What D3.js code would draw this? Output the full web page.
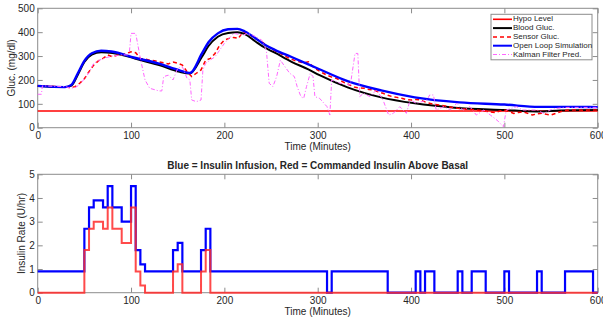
<!DOCTYPE html>
<html>
<head>
<meta charset="utf-8">
<script src="https://cdn.jsdelivr.net/npm/d3@7"></script>
<style>
  body { margin: 0; background: white; }
  text { font-family: "Liberation Sans", Arial, sans-serif; fill: #262626; }
</style>
</head>
<body>
<div id="visualization"></div>
<script>
let w = 603;
let h = 320;

// ---- top chart data (minutes, mg/dl) ----
let hypoLevel = 70;

let bloodTimes = [0, 30, 36, 43, 50, 58, 68, 80, 104, 130, 152, 163, 176, 183, 193, 204, 214, 222, 233, 243, 254, 272, 290, 302, 332, 368, 404, 447, 500, 535, 560, 600];
let bloodVals  = [175, 170, 176, 222, 275, 306, 316, 313, 290, 262, 234, 227, 297, 342, 381, 397, 400, 392, 362, 336, 314, 276, 244, 220, 169, 127, 102, 84, 74, 68, 72, 74];

let openTimes = [0, 29, 36, 43, 50, 58, 68, 79, 104, 130, 152, 163, 176, 183, 193, 204, 214, 222, 233, 243, 254, 272, 290, 300, 332, 368, 404, 452, 500, 537, 570, 600];
let openVals  = [175, 170, 179, 228, 280, 312, 322, 319, 293, 268, 240, 229, 311, 358, 395, 412, 414, 403, 376, 348, 326, 296, 265, 248, 195, 156, 127, 106, 97, 87, 87, 86];

let sensorTimes = d3.range(0, 601, 5);
let sensorVals = [176, 175, 174, 174, 172, 172, 170, 168, 172, 186, 205, 235, 262, 280, 290, 305, 297, 303, 304, 311,
  318, 314, 290, 288, 283, 280, 276, 272, 267, 275, 270, 262, 235, 214, 228, 242, 283, 290, 311, 346,
  367, 374, 378, 374, 402, 395, 381, 370, 360, 345, 332, 320, 311, 300, 290, 282, 276, 272, 276, 255,
  241, 230, 220, 212, 207, 196, 186, 178, 169, 166, 165, 160, 158, 150, 144, 136, 130, 127, 123, 118,
  116, 118, 116, 108, 102, 98, 95, 92, 88, 84, 81, 79, 77, 76, 74, 72, 70, 66, 63, 70,
  74, 68, 60, 64, 67, 60, 53, 58, 60, 56, 53, 60, 67, 72, 74, 74, 74, 73, 74, 74, 74];

let kalmanTimes = [0, 4, 5, 30, 35, 40, 45, 55, 60, 70, 80, 90, 98, 100, 105, 107, 110, 115, 120, 130, 133, 135, 140, 145, 150, 155, 160, 163, 165, 170, 175, 177, 180, 190, 200, 210, 220, 225, 230, 240, 245, 248, 252, 256, 260, 265, 270, 275, 278, 282, 285, 288, 292, 295, 297, 302, 310, 313, 315, 324, 335, 340, 343, 345, 349, 356, 363, 370, 376, 381, 388, 395, 399, 406, 417, 420, 424, 427, 435, 442, 449, 456, 463, 470, 478, 485, 492, 499, 502, 513, 520, 535, 542, 549, 556, 567, 600];
let kalmanVals  = [140, 140, 175, 172, 165, 168, 180, 230, 270, 290, 300, 305, 305, 395, 395, 353, 290, 200, 165, 154, 154, 214, 220, 200, 249, 255, 207, 200, 116, 109, 116, 242, 270, 297, 353, 395, 388, 395, 388, 367, 325, 186, 172, 214, 283, 255, 228, 214, 172, 130, 123, 172, 228, 214, 130, 123, 88, 53, 200, 186, 179, 311, 311, 130, 144, 130, 158, 116, 53, 60, 88, 60, 116, 102, 116, 137, 137, 74, 88, 74, 102, 74, 88, 53, 74, 53, 32, 4, 74, 88, 74, 74, 60, 74, 81, 85, 85];

// ---- bottom chart data (minutes, U/hr), step after ----
let infusionTimes = [0, 50, 55, 60, 70, 75, 80, 90, 100, 105, 110, 115, 145, 150, 155, 175, 180, 185, 310, 315, 375, 405, 410, 415, 425, 450, 455, 465, 480, 500, 505, 535, 540, 565, 595, 600];
let infusionVals  = [0.9, 2.7, 3.6, 3.9, 3.6, 4.5, 3.6, 3.0, 4.5, 1.8, 1.2, 0.9, 1.8, 2.1, 0.9, 1.8, 2.7, 0.9, 0, 0.9, 0, 0.9, 0, 0.9, 0, 0.9, 0, 0.9, 0, 0.9, 0, 0.9, 0, 0.9, 0, 0];

let commandTimes = [0, 50, 55, 60, 70, 75, 80, 90, 100, 105, 110, 115, 145, 150, 155, 175, 180, 185, 600];
let commandVals  = [0, 1.8, 2.7, 3.0, 2.7, 3.6, 2.7, 2.1, 3.6, 0.9, 0.3, 0, 0.9, 1.2, 0, 0.9, 1.8, 0, 0];

let legendLabels = ["Hypo Level", "Blood Gluc.", "Sensor Gluc.", "Open Loop Simulation", "Kalman Filter Pred."];

let zip = (ts, vs) => ts.map((t, i) => ({t: t, v: vs[i]}));

let viz = d3.select("#visualization")
  .append("svg")
  .attr("width", w)
  .attr("height", h)
  .style("background-color", "white");

// shared x scale
let left = 37.7, right = 597.7;
let xScale = d3.scaleLinear().domain([0, 600]).range([left, right]);

// scales for each panel
let yTop = d3.scaleLinear().domain([0, 500]).range([127.7, 8.3]);
let yBot = d3.scaleLinear().domain([0, 5]).range([292.7, 174.3]);

function drawAxes(y, yTicks, xLabelY, yLabel, yLabelX) {
  let y0 = y.range()[0], y1 = y.range()[1];
  let g = viz.append("g");

  g.append("g").attr("transform", "translate(0," + y0 + ")")
    .call(d3.axisBottom(xScale).tickValues(d3.range(0, 601, 100)).tickSize(-5).tickPadding(4).tickSizeOuter(0));
  g.append("g").attr("transform", "translate(0," + y1 + ")")
    .call(d3.axisTop(xScale).tickValues(d3.range(0, 601, 100)).tickSize(-5).tickFormat("").tickSizeOuter(0));
  g.append("g").attr("transform", "translate(" + left + ",0)")
    .call(d3.axisLeft(y).tickValues(yTicks).tickFormat(d3.format("d")).tickSize(-5).tickPadding(3).tickSizeOuter(0));
  g.append("g").attr("transform", "translate(" + right + ",0)")
    .call(d3.axisRight(y).tickValues(yTicks).tickSize(-5).tickFormat("").tickSizeOuter(0));

  g.selectAll(".domain").remove();
  g.selectAll(".tick line").attr("stroke", "#8c8c8c");
  g.selectAll(".tick text").style("font-size", "10px").attr("fill", "#262626");

  g.append("rect")
    .attr("x", left).attr("y", y1)
    .attr("width", right - left).attr("height", y0 - y1)
    .attr("fill", "none").attr("stroke", "#8c8c8c").attr("stroke-width", 1);

  viz.append("text")
    .attr("x", (left + right) / 2).attr("y", xLabelY)
    .attr("text-anchor", "middle").style("font-size", "10px")
    .text("Time (Minutes)");

  viz.append("text")
    .attr("transform", "translate(" + yLabelX + "," + ((y0 + y1) / 2) + ") rotate(-90)")
    .attr("text-anchor", "middle").attr("dominant-baseline", "middle").style("font-size", "10px")
    .text(yLabel);
}

drawAxes(yTop, d3.range(0, 501, 100), 150, "Gluc. (mg/dl)", 12);
drawAxes(yBot, d3.range(0, 6, 1), 314.5, "Insulin Rate (U/hr)", 22);

// ---- top panel lines ----
let topLine = d3.line().x(d => xScale(d.t)).y(d => yTop(d.v));
let smoothLine = d3.line().x(d => xScale(d.t)).y(d => yTop(d.v)).curve(d3.curveMonotoneX);

let series = [
  {label: legendLabels[0], data: zip([0, 600], [hypoLevel, hypoLevel]), color: "#ff0000", width: 1.6, dash: null, gen: topLine},
  {label: legendLabels[1], data: zip(bloodTimes, bloodVals), color: "#000000", width: 2, dash: null, gen: smoothLine},
  {label: legendLabels[2], data: zip(sensorTimes, sensorVals), color: "#ff0000", width: 1.5, dash: "4,3", gen: topLine},
  {label: legendLabels[3], data: zip(openTimes, openVals), color: "#0000ff", width: 2.4, dash: null, gen: smoothLine},
  {label: legendLabels[4], data: zip(kalmanTimes, kalmanVals), color: "#ff66ff", width: 1, dash: "4,2,1,2", gen: topLine}
];

series.forEach(s => {
  viz.append("path")
    .datum(s.data)
    .attr("fill", "none")
    .attr("stroke", s.color)
    .attr("stroke-width", s.width)
    .attr("stroke-dasharray", s.dash)
    .attr("d", s.gen);
});

// legend
let legend = viz.append("g").attr("transform", "translate(491,14.3)");
legend.append("rect")
  .attr("width", 101).attr("height", 45.5)
  .attr("fill", "white").attr("stroke", "#8c8c8c");
series.forEach((s, i) => {
  let yy = 5 + i * 8.8;
  legend.append("line")
    .attr("x1", 2).attr("x2", 21).attr("y1", yy).attr("y2", yy)
    .attr("stroke", s.color).attr("stroke-width", Math.min(s.width, 2))
    .attr("stroke-dasharray", s.dash);
  legend.append("text")
    .attr("x", 22).attr("y", yy)
    .attr("dominant-baseline", "middle")
    .style("font-size", "8px")
    .text(s.label);
});

// ---- bottom panel ----
viz.append("text")
  .attr("x", (left + right) / 2).attr("y", 169)
  .attr("text-anchor", "middle")
  .style("font-size", "10px").style("font-weight", "bold")
  .attr("fill", "#000")
  .text("Blue = Insulin Infusion, Red = Commanded Insulin Above Basal");

let stepLine = d3.line().x(d => xScale(d.t)).y(d => yBot(d.v)).curve(d3.curveStepAfter);

viz.append("path")
  .datum(zip(infusionTimes, infusionVals))
  .attr("fill", "none").attr("stroke", "#0000ff").attr("stroke-width", 2.2)
  .attr("d", stepLine);

viz.append("path")
  .datum(zip(commandTimes, commandVals))
  .attr("fill", "none").attr("stroke", "#ff2a2a").attr("stroke-width", 2)
  .attr("stroke-opacity", 0.85)
  .attr("d", stepLine);
</script>
</body>
</html>
